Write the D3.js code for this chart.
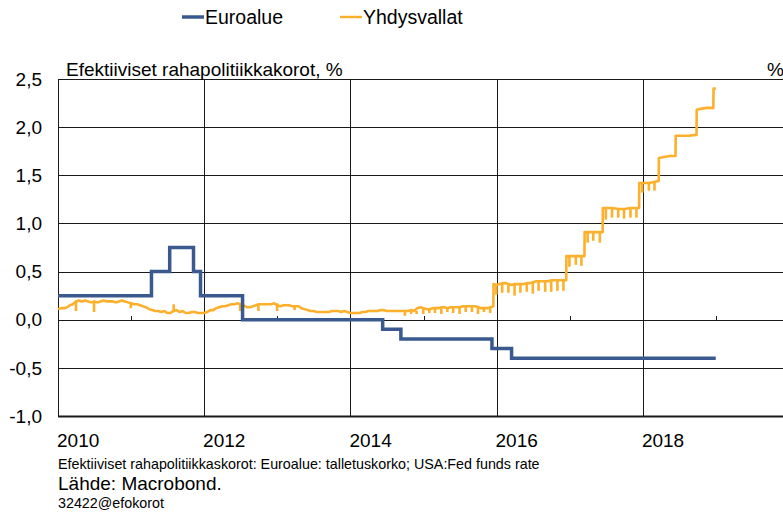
<!DOCTYPE html>
<html>
<head>
<meta charset="utf-8">
<script src="https://cdn.jsdelivr.net/npm/d3@7"></script>
<style>
  body { margin: 0; background: #fff; }
  svg text { font-family: "Liberation Sans", Arial, sans-serif; fill: #000; }
</style>
</head>
<body>
<div id="chart"></div>
<script>
// Euroalue: talletuskorko (porrasfunktio, muutospäivät)
const euroDates = ["2010-01-01", "2011-04-13", "2011-07-13", "2011-11-09", "2011-12-14", "2012-07-11",
    "2014-06-11", "2014-09-10", "2015-12-09", "2016-03-16", "2018-12-31"];
const euroRates = [0.25, 0.50, 0.75, 0.50, 0.25, 0.00, -0.10, -0.20, -0.30, -0.40, -0.40];

// Yhdysvallat: Fed funds effective, tasot luettu kuvasta
const usLevels = [
    ["2010-01-01", 0.11], ["2010-01-16", 0.12], ["2010-02-01", 0.12], ["2010-02-16", 0.13], ["2010-03-01", 0.15], ["2010-03-16", 0.16],
    ["2010-04-01", 0.19], ["2010-04-16", 0.20], ["2010-05-01", 0.19], ["2010-05-16", 0.20], ["2010-06-01", 0.19], ["2010-06-16", 0.18],
    ["2010-07-01", 0.19], ["2010-07-16", 0.18], ["2010-08-01", 0.19], ["2010-08-16", 0.20], ["2010-09-01", 0.19], ["2010-09-16", 0.19],
    ["2010-10-01", 0.19], ["2010-10-16", 0.18], ["2010-11-01", 0.19], ["2010-11-16", 0.20], ["2010-12-01", 0.19], ["2010-12-16", 0.18],
    ["2011-01-01", 0.17], ["2011-01-16", 0.16], ["2011-02-01", 0.16], ["2011-02-16", 0.15], ["2011-03-01", 0.14], ["2011-03-16", 0.13],
    ["2011-04-01", 0.11], ["2011-04-16", 0.10], ["2011-05-01", 0.09], ["2011-05-16", 0.09], ["2011-06-01", 0.08], ["2011-06-16", 0.09],
    ["2011-07-01", 0.07], ["2011-07-16", 0.07], ["2011-08-01", 0.09], ["2011-08-16", 0.10], ["2011-09-01", 0.08], ["2011-09-16", 0.09],
    ["2011-10-01", 0.07], ["2011-10-16", 0.07], ["2011-11-01", 0.08], ["2011-11-16", 0.08], ["2011-12-01", 0.07], ["2011-12-16", 0.07],
    ["2012-01-01", 0.07], ["2012-01-16", 0.08], ["2012-02-01", 0.10], ["2012-02-16", 0.10], ["2012-03-01", 0.12], ["2012-03-16", 0.13],
    ["2012-04-01", 0.14], ["2012-04-16", 0.14], ["2012-05-01", 0.15], ["2012-05-16", 0.16], ["2012-06-01", 0.16], ["2012-06-16", 0.17],
    ["2012-07-01", 0.16], ["2012-07-16", 0.15], ["2012-08-01", 0.13], ["2012-08-16", 0.13], ["2012-09-01", 0.14], ["2012-09-16", 0.15],
    ["2012-10-01", 0.16], ["2012-10-16", 0.16], ["2012-11-01", 0.16], ["2012-11-16", 0.16], ["2012-12-01", 0.16], ["2012-12-16", 0.17],
    ["2013-01-01", 0.15], ["2013-01-16", 0.14], ["2013-02-01", 0.15], ["2013-02-16", 0.15], ["2013-03-01", 0.15], ["2013-03-16", 0.14],
    ["2013-04-01", 0.14], ["2013-04-16", 0.14], ["2013-05-01", 0.12], ["2013-05-16", 0.11], ["2013-06-01", 0.10], ["2013-06-16", 0.09],
    ["2013-07-01", 0.09], ["2013-07-16", 0.08], ["2013-08-01", 0.08], ["2013-08-16", 0.08], ["2013-09-01", 0.08], ["2013-09-16", 0.08],
    ["2013-10-01", 0.09], ["2013-10-16", 0.09], ["2013-11-01", 0.09], ["2013-11-16", 0.08], ["2013-12-01", 0.09], ["2013-12-16", 0.08],
    ["2014-01-01", 0.07], ["2014-01-16", 0.07], ["2014-02-01", 0.07], ["2014-02-16", 0.07], ["2014-03-01", 0.08], ["2014-03-16", 0.08],
    ["2014-04-01", 0.09], ["2014-04-16", 0.09], ["2014-05-01", 0.09], ["2014-05-16", 0.09], ["2014-06-01", 0.10], ["2014-06-16", 0.10],
    ["2014-07-01", 0.09], ["2014-07-16", 0.09], ["2014-08-01", 0.09], ["2014-08-16", 0.09], ["2014-09-01", 0.09], ["2014-09-16", 0.09],
    ["2014-10-01", 0.09], ["2014-10-16", 0.09], ["2014-11-01", 0.10], ["2014-11-16", 0.09], ["2014-12-01", 0.12], ["2014-12-16", 0.13],
    ["2015-01-01", 0.12], ["2015-01-16", 0.11], ["2015-02-01", 0.11], ["2015-02-16", 0.12], ["2015-03-01", 0.12], ["2015-03-16", 0.12],
    ["2015-04-01", 0.13], ["2015-04-16", 0.13], ["2015-05-01", 0.12], ["2015-05-16", 0.13], ["2015-06-01", 0.13], ["2015-06-16", 0.13],
    ["2015-07-01", 0.13], ["2015-07-16", 0.14], ["2015-08-01", 0.14], ["2015-08-16", 0.14], ["2015-09-01", 0.14], ["2015-09-16", 0.14],
    ["2015-10-01", 0.13], ["2015-10-16", 0.12], ["2015-11-01", 0.12], ["2015-11-16", 0.12], ["2015-12-01", 0.13], ["2015-12-16", 0.14],
    ["2015-12-17", 0.37],
    ["2016-01-01", 0.36], ["2016-01-16", 0.37], ["2016-02-01", 0.38], ["2016-02-16", 0.38], ["2016-03-01", 0.37], ["2016-03-16", 0.36],
    ["2016-04-01", 0.37], ["2016-04-16", 0.37], ["2016-05-01", 0.37], ["2016-05-16", 0.37], ["2016-06-01", 0.38], ["2016-06-16", 0.38],
    ["2016-07-01", 0.39], ["2016-07-16", 0.40], ["2016-08-01", 0.40], ["2016-08-16", 0.40], ["2016-09-01", 0.40], ["2016-09-16", 0.40],
    ["2016-10-01", 0.41], ["2016-10-16", 0.41], ["2016-11-01", 0.41], ["2016-11-16", 0.41], ["2016-12-01", 0.41], ["2016-12-14", 0.41],
    ["2016-12-15", 0.66],
    ["2017-01-01", 0.66], ["2017-02-01", 0.66], ["2017-03-15", 0.66], ["2017-03-16", 0.91], ["2017-04-01", 0.91], ["2017-05-01", 0.91],
    ["2017-06-14", 0.91], ["2017-06-15", 1.16], ["2017-07-01", 1.16], ["2017-08-01", 1.16], ["2017-09-01", 1.15], ["2017-10-01", 1.15],
    ["2017-11-01", 1.16], ["2017-12-13", 1.16], ["2017-12-14", 1.42],
    ["2018-01-01", 1.42], ["2018-02-01", 1.42], ["2018-03-21", 1.44], ["2018-03-22", 1.68], ["2018-04-16", 1.69], ["2018-05-16", 1.70],
    ["2018-06-13", 1.70], ["2018-06-14", 1.91], ["2018-07-16", 1.91], ["2018-08-16", 1.91], ["2018-09-26", 1.92], ["2018-09-27", 2.18],
    ["2018-10-16", 2.19], ["2018-11-16", 2.20], ["2018-12-19", 2.20], ["2018-12-20", 2.40], ["2018-12-31", 2.40]
];

// Yksittäiset piikit ja kuunvaihteen notkahdukset: [päivä, taso, ääriarvo]
const usSpikes = [
    ["2010-04-01", 0.19, 0.09], ["2010-06-30", 0.18, 0.08], ["2010-12-31", 0.18, 0.12], ["2011-08-02", 0.08, 0.16],
    ["2012-06-29", 0.17, 0.09], ["2012-09-28", 0.15, 0.09], ["2012-12-31", 0.17, 0.09], ["2013-03-28", 0.14, 0.10],
    ["2014-09-30", 0.09, 0.04], ["2014-10-31", 0.09, 0.06], ["2014-11-28", 0.09, 0.06], ["2014-12-31", 0.12, 0.06],
    ["2015-01-30", 0.11, 0.07], ["2015-02-27", 0.12, 0.07], ["2015-03-31", 0.12, 0.06], ["2015-04-30", 0.13, 0.08],
    ["2015-05-29", 0.13, 0.07], ["2015-06-30", 0.13, 0.06], ["2015-07-31", 0.14, 0.08], ["2015-08-31", 0.14, 0.08],
    ["2015-09-30", 0.14, 0.06], ["2015-10-30", 0.12, 0.08], ["2015-11-30", 0.12, 0.07], ["2015-12-31", 0.36, 0.26],
    ["2016-01-29", 0.38, 0.28], ["2016-02-29", 0.37, 0.28], ["2016-03-31", 0.37, 0.25], ["2016-04-29", 0.37, 0.28],
    ["2016-05-31", 0.38, 0.29], ["2016-06-30", 0.39, 0.27], ["2016-07-29", 0.40, 0.30], ["2016-08-31", 0.40, 0.29],
    ["2016-09-30", 0.41, 0.29], ["2016-10-31", 0.41, 0.30], ["2016-11-30", 0.41, 0.30],
    ["2016-12-30", 0.66, 0.55], ["2017-01-31", 0.66, 0.57], ["2017-02-28", 0.66, 0.56],
    ["2017-03-31", 0.91, 0.80], ["2017-04-28", 0.91, 0.82], ["2017-05-31", 0.91, 0.80],
    ["2017-06-30", 1.16, 1.04], ["2017-07-31", 1.16, 1.06], ["2017-08-31", 1.16, 1.06], ["2017-09-29", 1.15, 1.05],
    ["2017-10-31", 1.15, 1.06], ["2017-11-30", 1.16, 1.06],
    ["2017-12-29", 1.42, 1.32], ["2018-01-31", 1.42, 1.34], ["2018-02-28", 1.43, 1.34]
];

const yTicks = [-1.0, -0.5, 0.0, 0.5, 1.0, 1.5, 2.0, 2.5];
const xGridYears = ["2012-01-01", "2014-01-01", "2016-01-01", "2018-01-01"];
const xLabelYears = ["2010-01-01", "2012-01-01", "2014-01-01", "2016-01-01", "2018-01-01"];
const xMinorYears = ["2011-01-01", "2013-01-01", "2015-01-01", "2017-01-01", "2019-01-01"];
const seriesNames = ["Euroalue", "Yhdysvallat"];

document.addEventListener('DOMContentLoaded', function () {
    const width = 783, height = 514;
    const plot = { left: 58, top: 79, right: 789, bottom: 416 };
    const euroColor = "#3a5a8f", usColor = "#fcb02c";

    const parse = d3.timeParse("%Y-%m-%d");
    const fi = d3.formatLocale({ decimal: ",", thousands: " ", grouping: [3], currency: ["", "€"], minus: "-" });
    const fmt = fi.format(".1f");

    const svg = d3.select('#chart').append('svg')
        .attr('width', width)
        .attr('height', height);

    const x = d3.scaleTime()
        .domain([parse("2010-01-01"), parse("2020-01-01")])
        .range([plot.left, plot.right]);
    const y = d3.scaleLinear()
        .domain([-1, 2.5])
        .range([plot.bottom, plot.top]);

    // horizontal gridlines + y labels
    const grid = svg.append('g');
    grid.selectAll('line.h')
        .data(yTicks)
        .enter().append('line')
        .attr('x1', plot.left).attr('x2', width)
        .attr('y1', d => Math.round(y(d)) + 0.5).attr('y2', d => Math.round(y(d)) + 0.5)
        .attr('stroke', '#1a1a1a')
        .attr('stroke-width', d => d === -1 ? 2 : 1);

    // vertical gridlines
    grid.selectAll('line.v')
        .data(xGridYears)
        .enter().append('line')
        .attr('x1', d => Math.round(x(parse(d))) + 0.5).attr('x2', d => Math.round(x(parse(d))) + 0.5)
        .attr('y1', plot.top).attr('y2', plot.bottom)
        .attr('stroke', '#1a1a1a');

    // left border
    grid.append('line')
        .attr('x1', plot.left + 0.5).attr('x2', plot.left + 0.5)
        .attr('y1', plot.top).attr('y2', plot.bottom + 1)
        .attr('stroke', '#1a1a1a');

    // minor ticks on zero line
    grid.selectAll('line.m')
        .data(xMinorYears)
        .enter().append('line')
        .attr('x1', d => Math.round(x(parse(d))) + 0.5).attr('x2', d => Math.round(x(parse(d))) + 0.5)
        .attr('y1', Math.round(y(0)) - 4).attr('y2', Math.round(y(0)))
        .attr('stroke', '#1a1a1a');

    svg.append('g')
        .selectAll('text')
        .data(yTicks)
        .enter().append('text')
        .attr('x', 42)
        .attr('y', d => y(d))
        .attr('dy', '0.35em')
        .attr('text-anchor', 'end')
        .style('font-size', '19px')
        .text(d => fmt(d));

    svg.append('g')
        .selectAll('text')
        .data(xLabelYears)
        .enter().append('text')
        .attr('x', d => x(parse(d)) - 1)
        .attr('y', 447)
        .style('font-size', '19px')
        .text(d => d.slice(0, 4));

    // US series
    const line = d3.line()
        .x(d => x(parse(d[0])))
        .y(d => y(d[1]));

    svg.append('path')
        .datum(usLevels)
        .attr('d', line)
        .attr('fill', 'none')
        .attr('stroke', usColor)
        .attr('stroke-width', 2.6)
        .attr('stroke-linejoin', 'round');

    svg.append('g')
        .selectAll('line')
        .data(usSpikes)
        .enter().append('line')
        .attr('x1', d => x(parse(d[0]))).attr('x2', d => x(parse(d[0])))
        .attr('y1', d => y(d[1])).attr('y2', d => y(d[2]))
        .attr('stroke', usColor)
        .attr('stroke-width', 2.6);

    // Euro series
    const euroLine = d3.line()
        .curve(d3.curveStepAfter)
        .x((d, i) => x(parse(euroDates[i])))
        .y(d => y(d));

    svg.append('path')
        .datum(euroRates)
        .attr('d', euroLine)
        .attr('fill', 'none')
        .attr('stroke', euroColor)
        .attr('stroke-width', 3.5);

    // titles
    svg.append('text')
        .attr('x', 66).attr('y', 76)
        .style('font-size', '19px')
        .text('Efektiiviset rahapolitiikkakorot, %');
    svg.append('text')
        .attr('x', 784).attr('y', 76)
        .attr('text-anchor', 'end')
        .style('font-size', '19px')
        .text('%');

    // legend
    const legend = svg.append('g');
    const legendX = [182, 340];
    const legendColors = [euroColor, usColor];
    seriesNames.forEach((name, i) => {
        legend.append('line')
            .attr('x1', legendX[i]).attr('x2', legendX[i] + 22)
            .attr('y1', 17).attr('y2', 17)
            .attr('stroke', legendColors[i])
            .attr('stroke-width', i === 0 ? 3.5 : 2.5);
        legend.append('text')
            .attr('x', legendX[i] + 23).attr('y', 24)
            .style('font-size', '19.5px')
            .text(name);
    });

    // footnotes
    svg.append('text')
        .attr('x', 58).attr('y', 469)
        .style('font-size', '14.3px')
        .text('Efektiiviset rahapolitiikkaskorot: Euroalue: talletuskorko; USA:Fed funds rate');
    svg.append('text')
        .attr('x', 58).attr('y', 490)
        .style('font-size', '19px')
        .text('Lähde: Macrobond.');
    svg.append('text')
        .attr('x', 58).attr('y', 508)
        .style('font-size', '14.3px')
        .text('32422@efokorot');
});
</script>
</body>
</html>
